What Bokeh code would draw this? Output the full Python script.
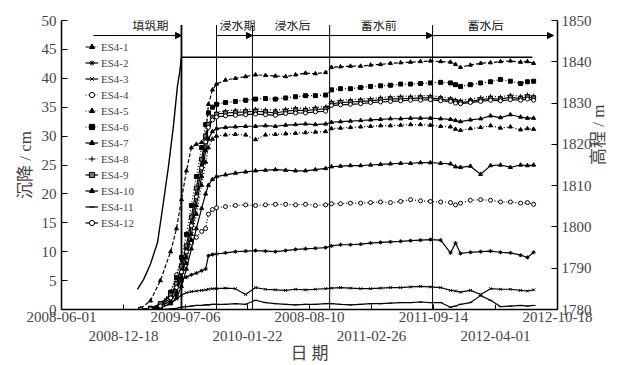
import math
from bokeh.plotting import figure
from bokeh.models import (Range1d, LinearAxis, FixedTicker, Arrow, NormalHead,
                          Legend, LegendItem, ColumnDataSource)
from bokeh.core.properties import value
from bokeh.embed import file_html
from bokeh.resources import INLINE

# ---------------- data ----------------
# x values: days counted from 2008-06-01
tick_days = [0, 200, 400, 600, 800, 1000, 1200, 1400, 1600]
tick_labels = ["2008-06-01", "2008-12-18", "2009-07-06", "2010-01-22", "2008-08-10",
               "2011-02-26", "2011-09-14", "2012-04-01", "2012-10-18"]
y_ticks = [0, 5, 10, 15, 20, 25, 30, 35, 40, 45, 50]
elev_ticks = [1780, 1790, 1800, 1810, 1820, 1830, 1840, 1850]

days = [255, 287, 319, 352, 371, 387, 403, 419, 435, 452, 465, 474, 487, 500,
        529, 561, 594, 626, 658, 690, 723, 755, 787, 819, 852, 871, 900, 932, 965,
        997, 1029, 1061, 1094, 1126, 1158, 1190, 1223, 1255, 1271, 1287, 1319, 1352,
        1384, 1416, 1448, 1481, 1503, 1523]

es4_1 = [0.2, 1.5, 5, 10, 14, 19, 24, 28, 28.6, 28.9, 30, 35.5, 38, 39,
         39.7, 40.0, 40.3, 40.6, 40.5, 40.4, 40.3, 40.6, 40.9, 40.8, 41.0, 41.9, 42.0, 42.1,
         42.1, 42.3, 42.4, 42.6, 42.7, 42.8, 42.9, 43.0, 42.9, 42.8, 42.4, 41.9, 42.3, 42.6,
         42.7, 42.9, 43.0, 42.8, 42.9, 42.6]
es4_2 = [0, 0.1, 0.8, 2.5, 4, 5.2, 5.6, 6, 6.3, 6.7, 7, 9.3, 9.5, 9.6,
         9.8, 10.0, 10.1, 10.2, 10.1, 10.0, 10.2, 10.4, 10.5, 10.6, 10.7, 11.0, 11.2, 11.2,
         11.3, 11.5, 11.6, 11.7, 11.8, 11.9, 12.0, 12.1, 12.0, 9.8, 11.5, 9.7, 9.9, 10.0,
         10.1, 9.9, 9.8, 9.4, 9.0, 9.9]
es4_3 = [0, 0, 0.3, 1.0, 1.8, 2.5, 2.9, 3.1, 3.2, 3.3, 3.4, 3.5, 3.6, 3.6,
         3.7, 3.6, 2.6, 3.8, 3.5, 3.4, 3.3, 3.5, 3.4, 3.5, 3.6, 3.7, 3.8, 3.7,
         3.6, 3.6, 3.7, 3.8, 3.8, 3.9, 4.0, 3.9, 3.8, 3.3, 3.2, 3.0, 3.3, 2.6,
         3.6, 3.5, 3.5, 3.3, 3.2, 3.4]
es4_4 = [0, 0, 0.8, 3, 6, 9, 10.5, 11.5, 12.5, 13.5, 14, 16.5, 17.3, 17.6,
         17.8, 18.0, 18.1, 18.0, 18.1, 18.2, 18.2, 18.1, 18.2, 18.0, 18.1, 18.3, 18.3, 18.4,
         18.4, 18.5, 18.6, 18.5, 18.7, 19.0, 18.8, 18.7, 18.6, 18.5, 18.1, 18.4, 18.9, 19.0,
         18.9, 18.6, 18.6, 18.4, 18.5, 18.2]
es4_5 = [0, 0.1, 0.4, 1.2, 2.5, 5, 8, 12, 16.5, 21.5, 25.5, 28, 29.5, 30,
         30.2, 30.3, 30.2, 29.4, 30.2, 30.3, 30.4, 30.5, 30.6, 30.7, 30.8, 31.3, 31.4, 31.5,
         31.6, 31.7, 31.8, 31.8, 31.9, 32.0, 32.0, 31.9, 31.7, 31.6, 31.2, 31.0, 31.3, 31.5,
         31.8, 31.4, 31.6, 31.1, 31.3, 31.2]
es4_6 = [0, 0.2, 1, 3, 5.5, 9, 13, 18, 23, 28, 32, 34, 35, 35.5,
         35.8, 36.0, 36.2, 36.4, 36.5, 36.4, 36.6, 36.8, 37.0, 37.0, 37.1, 38.0, 38.2, 38.2,
         38.4, 38.6, 38.7, 38.8, 39.0, 39.0, 39.1, 39.2, 39.3, 39.2, 38.9, 38.6, 38.9, 39.2,
         39.4, 39.8, 39.5, 39.1, 39.4, 39.5]
es4_7 = [0, 0.1, 0.5, 1.5, 3, 5.5, 9, 13, 18, 23, 27.5, 29.5, 30.8, 31.3,
         31.5, 31.6, 31.7, 31.7, 31.8, 31.7, 31.9, 32.0, 32.1, 32.0, 32.1, 32.4, 32.5, 32.6,
         32.7, 32.8, 32.9, 33.0, 33.0, 33.1, 33.1, 33.1, 33.0, 32.9, 32.7, 32.5, 32.8, 33.0,
         33.5, 33.2, 33.7, 33.3, 33.1, 33.1]
es4_8 = [0, 0.2, 0.8, 2.2, 4.2, 7, 10.5, 15, 20, 25, 29.5, 31.8, 33.4, 34.1,
         34.4, 34.5, 34.6, 34.7, 34.6, 34.5, 34.7, 34.9, 34.8, 35.0, 35.1, 36.0, 36.2, 36.3,
         36.4, 36.5, 36.7, 36.8, 36.9, 36.9, 37.0, 37.0, 36.8, 36.6, 36.3, 36.2, 36.4, 36.7,
         36.9, 36.8, 37.1, 36.9, 37.2, 37.0]
es4_9 = [0, 0.2, 1, 2.5, 4.5, 7.5, 11, 16, 21, 26, 30, 32, 33.2, 33.8,
         34.0, 34.1, 34.2, 34.3, 34.2, 34.0, 34.3, 34.5, 34.4, 34.6, 34.7, 35.6, 35.8, 35.9,
         36.0, 36.1, 36.3, 36.4, 36.5, 36.5, 36.6, 36.6, 36.4, 36.2, 36.0, 35.8, 36.0, 36.3,
         36.5, 36.4, 36.7, 36.5, 36.8, 36.6]
es4_10 = [0, 0, 0.3, 1, 2, 4, 7, 10.5, 14, 17.5, 20, 21.5, 22.5, 23,
          23.3, 23.6, 23.8, 24.0, 24.1, 24.2, 24.1, 24.0, 24.0, 24.2, 24.4, 24.7, 24.8, 24.9,
          24.9, 25.0, 25.1, 25.2, 25.3, 25.3, 25.4, 25.4, 25.3, 25.2, 24.7, 24.6, 24.8, 23.4,
          24.9, 25.0, 24.6, 25.0, 24.9, 25.0]
es4_11 = [0, 0, 0, 0.1, 0.2, 0.4, 0.5, 0.6, 0.7, 0.7, 0.8, 0.8, 0.9, 0.9,
          0.9, 1.0, 0.9, 1.6, 1.2, 1.0, 0.9, 0.8, 0.9, 0.9, 1.0, 1.0, 0.9, 0.8,
          0.9, 1.0, 1.0, 1.1, 1.2, 1.2, 1.3, 1.2, 1.2, 0.4, 0.6, 0.9, 1.2, 2.4,
          1.6, 0.5, 0.6, 0.7, 0.6, 0.7]
es4_12 = [0, 0.1, 0.6, 2, 3.8, 6.5, 10, 14.5, 19.5, 24.5, 29, 31.5, 32.8, 33.3,
          33.5, 33.6, 33.7, 33.8, 33.7, 33.6, 33.9, 34.0, 34.0, 34.2, 34.3, 35.3, 35.4, 35.5,
          35.6, 35.8, 35.9, 36.0, 36.1, 36.2, 36.2, 36.3, 36.1, 36.0, 35.7, 35.6, 35.8, 36.0,
          36.2, 36.1, 36.3, 36.2, 36.4, 36.2]

series_names = ["ES4-1", "ES4-2", "ES4-3", "ES4-4", "ES4-5", "ES4-6",
                "ES4-7", "ES4-8", "ES4-9", "ES4-10", "ES4-11", "ES4-12"]
series_values = [es4_1, es4_2, es4_3, es4_4, es4_5, es4_6,
                 es4_7, es4_8, es4_9, es4_10, es4_11, es4_12]

# embankment crest elevation (m)
elev_days = [245, 265, 287, 310, 329, 345, 361, 374, 381, 387, 1519]
elev_m = [1784.9, 1787.3, 1791.0, 1796.3, 1806.1, 1814.6, 1824.4, 1834.1, 1837.3, 1841.1, 1841.1]

# construction stages
stage_lines = [387, 500, 616, 865, 1197]
arrow_start = [103, 500, 616, 1197]
arrow_end = [387, 616, 1197, 1587]
stage_names = ["填筑期", "浸水期", "浸水后", "蓄水前", "蓄水后"]
stage_label_days = [287, 568, 745, 1023, 1368]

# ---------------- styles ----------------
styles = [
    ("4 2", "triangle", "black"),
    ("solid", "asterisk", "black"),
    ("solid", "x", "black"),
    ("1 2", "circle", "white"),
    ("1 2", "triangle", "black"),
    ("1 2", "square", "black"),
    ("solid", "triangle", "black"),
    ("1 2", "cross", "black"),
    ("solid", "square", "#777777"),
    ("solid", "triangle", "black"),
    ("solid", "dash", "black"),
    ("solid", "circle", "white"),
]

SERIF = "Liberation Serif"
CJK = "Liberation Serif, Noto Sans CJK SC"

p = figure(width=622, height=365, x_range=Range1d(0, 1600), y_range=Range1d(0, 50),
           output_backend="svg", toolbar_location=None,
           min_border_left=61, min_border_right=65, min_border_top=20, min_border_bottom=56)
p.outline_line_color = None
p.grid.visible = False
p.background_fill_color = "white"
p.border_fill_color = "white"
p.extra_y_ranges = {"elev": Range1d(1780, 1850)}

# x axis, first row of labels
xa = p.xaxis[0]
xa.ticker = FixedTicker(ticks=tick_days)
xa.major_label_overrides = {d: (l if i % 2 == 0 else "") for i, (d, l) in enumerate(zip(tick_days, tick_labels))}
xa.major_tick_in = 5
xa.major_tick_out = 0
xa.minor_tick_in = 0
xa.minor_tick_out = 0
xa.major_label_standoff = 2
xa.major_label_text_font = SERIF
xa.major_label_text_font_size = "15px"
xa.axis_line_width = 1.5

# second row of labels
xa2 = LinearAxis(ticker=FixedTicker(ticks=tick_days),
                 major_label_overrides={d: (l if i % 2 == 1 else "") for i, (d, l) in enumerate(zip(tick_days, tick_labels))},
                 axis_line_color=None, major_tick_line_color=None, minor_tick_line_color=None,
                 major_label_standoff=0, major_label_text_font=SERIF,
                 major_label_text_font_size="15px",
                 axis_label="日 期", axis_label_text_font=CJK, axis_label_text_font_size="17px",
                 axis_label_text_font_style="normal", axis_label_standoff=0)
p.add_layout(xa2, "below")

ya = p.yaxis[0]
ya.ticker = FixedTicker(ticks=y_ticks)
ya.major_tick_in = 6
ya.major_tick_out = 0
ya.minor_tick_in = 0
ya.minor_tick_out = 0
ya.major_label_standoff = 5
ya.major_label_text_font = SERIF
ya.major_label_text_font_size = "15px"
ya.axis_label = "沉降 / cm"
ya.axis_label_text_font = CJK
ya.axis_label_text_font_size = "17px"
ya.axis_label_text_font_style = "normal"
ya.axis_label_standoff = 4
ya.axis_line_width = 1.5

ra = LinearAxis(y_range_name="elev", ticker=FixedTicker(ticks=elev_ticks),
                major_tick_in=6, major_tick_out=0, minor_tick_in=0, minor_tick_out=0,
                major_label_standoff=4, major_label_text_font=SERIF,
                major_label_text_font_size="15px",
                axis_label="高程 / m", axis_label_text_font=CJK,
                axis_label_text_font_size="17px", axis_label_text_font_style="normal",
                axis_label_standoff=4, axis_label_orientation=math.pi / 2,
                axis_line_width=1.5)
p.add_layout(ra, "right")

# stage boundary lines
p.segment(x0=stage_lines, y0=[0] * len(stage_lines), x1=stage_lines, y1=[49.2] * len(stage_lines),
          line_color="black", line_width=[1.8, 1, 1, 1, 1])

# stage arrows
asrc = ColumnDataSource(dict(x0=arrow_start, x1=arrow_end,
                             y0=[47.4] * len(arrow_start), y1=[47.4] * len(arrow_start)))
p.add_layout(Arrow(source=asrc, x_start="x0", x_end="x1", y_start="y0", y_end="y1",
                   line_color="black", line_width=1,
                   end=NormalHead(size=6, fill_color="black", line_color="black")))
p.text(x=stage_label_days, y=[47.9] * len(stage_names), text=stage_names,
       text_align="center", text_baseline="bottom",
       text_font=value("Noto Sans CJK SC"), text_font_size="12px", text_color="#222222")

# elevation curve
p.line(elev_days, elev_m, y_range_name="elev", line_color="black", line_width=1.4)

# settlement series
items = []
for name, vals, (dash, marker, fill) in zip(series_names, series_values, styles):
    lr = p.line(days, vals, line_color="black", line_width=1.2, line_dash=dash)
    sr = p.scatter(days, vals, marker=marker, size=4, line_color="black",
                   fill_color=fill, line_width=1)
    items.append(LegendItem(label=name, renderers=[lr, sr]))

legend = Legend(items=items, location=(24, 79), padding=0, margin=0, spacing=1,
                label_height=15, glyph_height=15, glyph_width=13, label_standoff=3,
                label_text_font=SERIF, label_text_font_size="11px",
                border_line_color=None, background_fill_alpha=0)
p.add_layout(legend)

open("out.html", "w").write(file_html(p, INLINE))
